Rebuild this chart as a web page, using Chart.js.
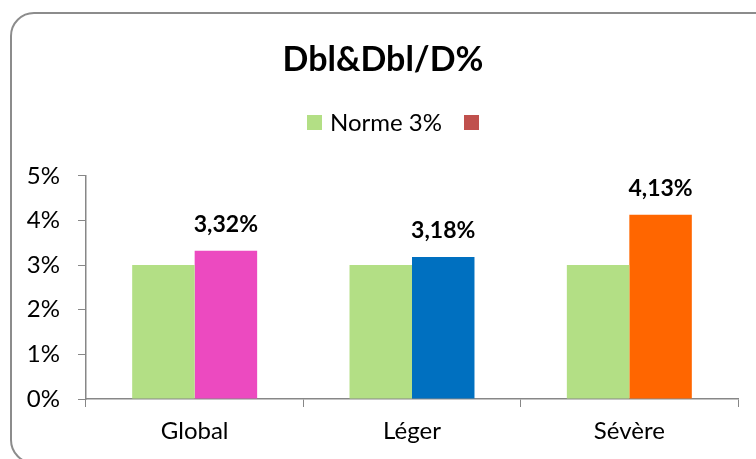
<!DOCTYPE html>
<html>
<head>
<meta charset="utf-8">
<script src="https://cdn.jsdelivr.net/npm/chart.js@4/dist/chart.umd.min.js"></script>
<style>
  html,body{margin:0;padding:0;background:#fff;}
  #wrap{position:relative;width:756px;height:459px;overflow:hidden;}
  #frame{position:absolute;left:10px;top:12px;width:770px;height:452px;border:2px solid #8c8c8c;border-radius:24px;box-sizing:border-box;}
  #myChart{position:absolute;left:0;top:0;}
</style>
</head>
<body>
<div id="wrap">
  <div id="frame"></div>
  <canvas id="myChart" width="756" height="459"></canvas>
</div>
<script>
var categories=["Global","Léger","Sévère"];
var norme=[3,3,3];
var values=[3.32,3.18,4.13];
var valueColors=["#EC4AC0","#0070C0","#FF6600"];
var yTicks=[0,1,2,3,4,5];

var legendNames=["Norme 3%",""];
var legendColors=["#B3DF85","#C0504D"];

var font="Lato, 'Open Sans', sans-serif";
var axisGray="#878787";

// labels over the coloured bars, e.g. 3,32%
var valueLabels={
    id:"valueLabels",
    afterDatasetsDraw:function(chart){
        var ctx=chart.ctx;
        var meta=chart.getDatasetMeta(1);
        ctx.save();
        ctx.font="bold 23px "+font;
        ctx.fillStyle="#000";
        ctx.textAlign="center";
        ctx.textBaseline="middle";
        meta.data.forEach(function(bar,i){
            var txt=values[i].toFixed(2).replace(".",",")+"%";
            ctx.fillText(txt,bar.x,bar.y-26);
        });
        ctx.restore();
    }
};

// legend row under the title: square + name, second entry has no name
var legendRow={
    id:"legendRow",
    afterDraw:function(chart){
        var ctx=chart.ctx;
        var x=307, y=122, box=15;
        ctx.save();
        ctx.font="24px "+font;
        ctx.textBaseline="middle";
        ctx.textAlign="left";
        legendNames.forEach(function(name,i){
            ctx.fillStyle=legendColors[i];
            ctx.fillRect(x,y-7,box,box);
            x+=box;
            if(name){
                x+=8;
                ctx.fillStyle="#000";
                ctx.fillText(name,x,y+1);
                x+=ctx.measureText(name).width;
            }
            x+=22;
        });
        ctx.restore();
    }
};

var ctx=document.getElementById("myChart").getContext("2d");
var myChart=new Chart(ctx,{
    type:"bar",
    data:{
        labels:categories,
        datasets:[
            {label:legendNames[0],data:norme,backgroundColor:legendColors[0]},
            {label:legendNames[1],data:values,backgroundColor:valueColors}
        ]
    },
    options:{
        responsive:false,
        animation:false,
        layout:{padding:{left:14,right:4,top:0,bottom:0}},
        datasets:{bar:{barPercentage:1,categoryPercentage:0.575}},
        plugins:{
            title:{
                display:true,
                text:"Dbl&Dbl/D%",
                color:"#000",
                font:{family:font,size:34,weight:"bold"},
                padding:{top:40,bottom:95}
            },
            legend:{display:false},
            tooltip:{enabled:false}
        },
        scales:{
            x:{
                grid:{drawOnChartArea:false,drawTicks:true,tickLength:8,color:axisGray},
                border:{color:axisGray,width:1.5},
                ticks:{color:"#000",font:{family:font,size:24},padding:10},
                afterFit:function(s){s.height=60;}
            },
            y:{
                min:0,max:5,
                afterBuildTicks:function(s){s.ticks=yTicks.map(function(v){return {value:v};});},
                grid:{drawOnChartArea:false,drawTicks:true,tickLength:8,color:axisGray},
                border:{color:axisGray,width:1.5},
                ticks:{color:"#000",font:{family:font,size:24},padding:18,
                    callback:function(v){return v+"%";}},
                afterFit:function(s){s.width=72;}
            },
            // empty right-hand strip so the plot ends before the frame
            yRight:{
                position:"right",
                min:0,max:5,
                grid:{display:false},
                border:{display:false},
                ticks:{display:false},
                afterFit:function(s){s.width=14;}
            }
        }
    },
    plugins:[valueLabels,legendRow]
});
</script>
</body>
</html>
